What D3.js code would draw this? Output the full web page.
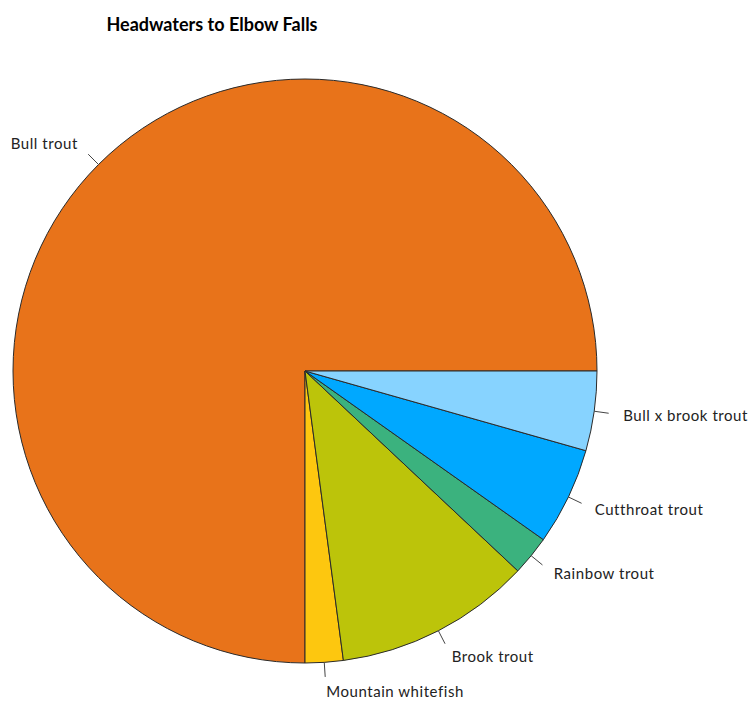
<!DOCTYPE html>
<html>
<head>
<meta charset="utf-8">
<script src="https://cdn.jsdelivr.net/npm/d3@7"></script>
<style>
  html, body { margin: 0; padding: 0; background: #fff; }
  svg { display: block; }
  text { font-family: "Lato", "DejaVu Sans", sans-serif; fill: #222; }
</style>
</head>
<body>
<svg id="chart" width="749" height="702"></svg>
<script>
// Share of catch by species, Headwaters to Elbow Falls (percent)
const species = ["Bull trout", "Mountain whitefish", "Brook trout", "Rainbow trout", "Cutthroat trout", "Bull x brook trout"];
const share = [75.0, 2.1, 10.9, 2.2, 5.4, 4.4];
const colors = ["#E8731A", "#FDC70F", "#BCC40A", "#3BB27E", "#00A8FF", "#87D3FF"];
const title = "Headwaters to Elbow Falls";

const svg = d3.select("#chart");
const cx = 305, cy = 371, r = 292;

// Slices run counter-clockwise starting at 3 o'clock
const pie = d3.pie().sort(null).value(d => d.v)
  .startAngle(Math.PI / 2).endAngle(Math.PI / 2 - 2 * Math.PI);
const data = species.map((s, i) => ({ name: s, v: share[i], color: colors[i] }));
const arcs = pie(data);
const arc = d3.arc().innerRadius(0).outerRadius(r);

const g = svg.append("g").attr("transform", `translate(${cx},${cy})`);

g.selectAll("path.slice").data(arcs).join("path")
  .attr("class", "slice")
  .attr("d", arc)
  .attr("fill", d => d.data.color)
  .attr("stroke", "#2a2a2a")
  .attr("stroke-width", 1)
  .attr("stroke-linejoin", "round");

// Leader ticks and labels placed on the slice mid-angle
const mid = d => (d.startAngle + d.endAngle) / 2;
const px = (d, k) => Math.sin(mid(d)) * r * k;
const py = (d, k) => -Math.cos(mid(d)) * r * k;

g.selectAll("line.tick").data(arcs).join("line")
  .attr("class", "tick")
  .attr("x1", d => px(d, 1)).attr("y1", d => py(d, 1))
  .attr("x2", d => px(d, 1.05)).attr("y2", d => py(d, 1.05))
  .attr("stroke", "#444").attr("stroke-width", 1);

g.selectAll("text.lab").data(arcs).join("text")
  .attr("class", "lab")
  .attr("x", d => px(d, 1.1)).attr("y", d => py(d, 1.1))
  .attr("dy", "0.35em")
  .attr("text-anchor", d => px(d, 1) < 0 ? "end" : "start")
  .style("font-size", "15px")
  .style("letter-spacing", "0.55px")
  .text(d => d.data.name);

svg.append("text")
  .attr("x", 212).attr("y", 31)
  .attr("text-anchor", "middle")
  .style("font-size", "18px")
  .style("font-weight", "bold")
  .style("fill", "#000")
  .text(title);
</script>
</body>
</html>
